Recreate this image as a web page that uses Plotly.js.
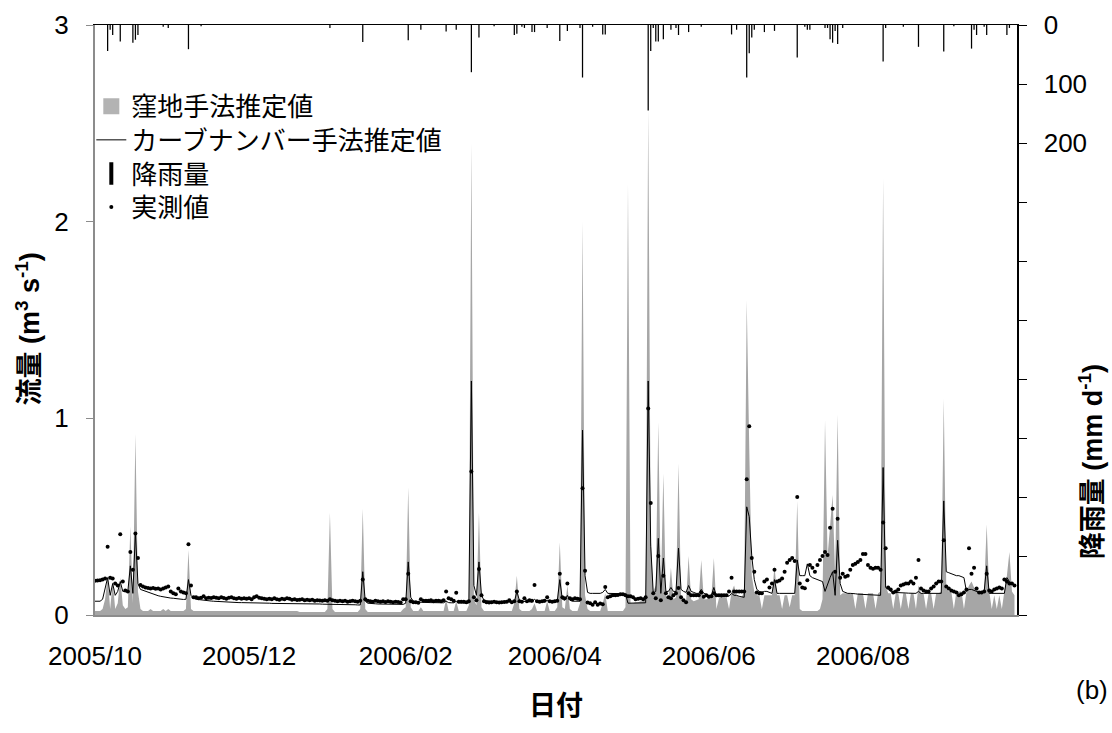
<!DOCTYPE html>
<html><head><meta charset="utf-8">
<script src="https://cdn.plot.ly/plotly-3.0.1.min.js"></script>
<style>html,body{margin:0;padding:0;background:#fff}#chart{width:1112px;height:733px}</style>
</head><body><div id="chart"></div>
<script>
// ---- data (daily series start 2005-10-01, one value per day) ----
const startDate = '2005-10-01';
const seriesNames = ['窪地手法推定値', 'カーブナンバー手法推定値', '降雨量', '実測値'];

// 窪地手法推定値 (m3/s)
const kubochi = [
 // Oct
 0.02,0.02,0.02,0.03,0.08,0.20,0.03,0.17,0.03,0.06, 0.19,0.05,0.03,0.04,0.45,0.06,0.92,0.12,0.03,0.02, 0.02,0.02,0.03,0.02,0.02,0.02,0.02,0.03,0.02,0.03, 0.02,
 // Nov
 0.02,0.02,0.02,0.02,0.02,0.03,0.33,0.03,0.02,0.02, 0.02,0.02,0.02,0.02,0.02,0.02,0.02,0.02,0.02,0.02, 0.02,0.02,0.02,0.02,0.02,0.02,0.02,0.02,0.02,0.02,
 // Dec
 0.02,0.02,0.02,0.02,0.02,0.02,0.02,0.02,0.02,0.02, 0.02,0.02,0.02,0.02,0.02,0.02,0.02,0.02,0.02,0.02, 0.015,0.015,0.015,0.015,0.015,0.015,0.015,0.015,0.015,0.015, 0.015,
 // Jan
 0.03,0.52,0.03,0.015,0.015,0.015,0.015,0.015,0.015,0.015, 0.015,0.015,0.015,0.03,0.54,0.03,0.015,0.015,0.015,0.015, 0.015,0.015,0.015,0.015,0.015,0.015,0.015,0.015,0.015,0.015, 0.03,
 // Feb
 0.04,0.65,0.04,0.02,0.02,0.02,0.04,0.02,0.02,0.02, 0.02,0.02,0.02,0.02,0.02,0.02,0.08,0.02,0.02,0.02, 0.07,0.02,0.02,0.02,0.02,0.05,2.40,0.08,
 // Mar
 0.05,0.52,0.04,0.02,0.02,0.02,0.02,0.02,0.02,0.02, 0.02,0.02,0.02,0.02,0.02,0.06,0.20,0.03,0.02,0.02, 0.02,0.02,0.03,0.06,0.02,0.02,0.02,0.02,0.07,0.02, 0.02,
 // Apr
 0.02,0.04,0.37,0.04,0.03,0.15,0.03,0.02,0.02,0.02, 0.06,2.00,0.10,0.03,0.02,0.02,0.02,0.02,0.02,0.06, 0.11,0.02,0.02,0.02,0.02,0.02,0.02,0.02,0.04,2.19,
 // May
 0.06,0.06,0.065,0.065,0.07,0.07,0.08,2.57,0.40,0.12, 0.15,0.98,0.12,0.72,0.10,0.08,0.24,0.08,0.09,0.77, 0.09,0.07,0.07,0.30,0.08,0.07,0.075,0.08,0.28,0.08, 0.08,
 // Jun
 0.085,0.09,0.29,0.03,0.085,0.09,0.09,0.09,0.03,0.12, 0.15,0.10,0.09,0.09,0.12,1.60,0.85,0.20,0.12,0.10, 0.10,0.03,0.10,0.10,0.10,0.10,0.25,0.10,0.10,0.03,
 // Jul
 0.10,0.10,0.04,0.10,0.10,0.58,0.03,0.02,0.02,0.02, 0.02,0.02,0.02,0.02,0.03,0.08,0.99,0.30,0.45,0.61, 0.20,1.02,0.10,0.11,0.11,0.11,0.11,0.11,0.03,0.11, 0.11,
 // Aug
 0.11,0.03,0.11,0.11,0.11,0.03,0.11,0.12,2.22,0.15, 0.11,0.11,0.03,0.11,0.11,0.03,0.11,0.11,0.03,0.11, 0.11,0.03,0.15,0.11,0.11,0.03,0.11,0.11,0.03,0.11, 0.11,
 // Sep
 0.12,1.10,0.14,0.12,0.12,0.03,0.12,0.12,0.12,0.03, 0.12,0.15,0.17,0.14,0.13,0.12,0.12,0.13,0.46,0.12, 0.03,0.10,0.03,0.10,0.03,0.12,0.20,0.32,0.12,0.10
];

// カーブナンバー手法推定値 (m3/s)
const curveNumber = [
 // Oct
 0.07,0.07,0.07,0.08,0.13,0.19,0.10,0.16,0.10,0.12, 0.17,0.12,0.12,0.12,0.25,0.11,0.42,0.16,0.13,0.125, 0.12,0.115,0.11,0.105,0.10,0.098,0.095,0.092,0.09,0.088, 0.086,
 // Nov
 0.085,0.083,0.082,0.08,0.079,0.08,0.18,0.10,0.085,0.08, 0.078,0.076,0.075,0.073,0.072,0.071,0.07,0.069,0.068,0.067, 0.066,0.066,0.065,0.065,0.064,0.064,0.063,0.063,0.063,0.062,
 // Dec
 0.062,0.062,0.061,0.061,0.061,0.06,0.06,0.06,0.06,0.059, 0.059,0.059,0.059,0.058,0.058,0.058,0.058,0.058,0.057,0.057, 0.057,0.057,0.057,0.056,0.056,0.056,0.056,0.056,0.056,0.055, 0.055,
 // Jan
 0.055,0.055,0.055,0.054,0.054,0.054,0.053,0.053,0.053,0.052, 0.052,0.052,0.051,0.051,0.22,0.07,0.06,0.058,0.057,0.057, 0.056,0.056,0.056,0.055,0.055,0.055,0.055,0.054,0.054,0.054, 0.054,
 // Feb
 0.06,0.27,0.09,0.07,0.066,0.065,0.065,0.064,0.064,0.063, 0.063,0.063,0.062,0.062,0.062,0.062,0.07,0.063,0.062,0.062, 0.07,0.062,0.062,0.061,0.061,0.061,1.19,0.15,
 // Mar
 0.10,0.27,0.10,0.075,0.072,0.07,0.069,0.068,0.068,0.067, 0.067,0.066,0.066,0.066,0.065,0.065,0.12,0.075,0.07,0.068, 0.067,0.067,0.066,0.08,0.068,0.067,0.066,0.066,0.075,0.067, 0.066,
 // Apr
 0.066,0.07,0.18,0.08,0.075,0.10,0.075,0.07,0.07,0.068, 0.07,0.94,0.20,0.115,0.11,0.11,0.11,0.11,0.11,0.115, 0.13,0.11,0.11,0.11,0.11,0.11,0.11,0.11,0.108,0.06,
 // May
 0.06,0.06,0.06,0.06,0.06,0.06,0.062,1.19,0.35,0.11, 0.12,0.39,0.11,0.29,0.12,0.12,0.14,0.12,0.12,0.34, 0.13,0.12,0.115,0.15,0.12,0.115,0.11,0.11,0.13,0.11, 0.105,
 // Jun
 0.10,0.10,0.14,0.095,0.093,0.092,0.095,0.10,0.095,0.11, 0.10,0.10,0.095,0.093,0.09,0.55,0.50,0.30,0.18,0.13, 0.12,0.115,0.12,0.12,0.115,0.11,0.18,0.11,0.11,0.11,
 // Jul
 0.11,0.11,0.11,0.11,0.11,0.28,0.20,0.20,0.20,0.26, 0.20,0.19,0.185,0.18,0.175,0.17,0.12,0.16,0.19,0.22, 0.10,0.38,0.16,0.12,0.115,0.11,0.11,0.11,0.108,0.106, 0.105,
 // Aug
 0.105,0.104,0.103,0.102,0.101,0.10,0.10,0.10,0.75,0.14, 0.13,0.12,0.115,0.115,0.114,0.113,0.112,0.112,0.111,0.11, 0.11,0.11,0.12,0.11,0.11,0.11,0.11,0.11,0.11,0.11, 0.11,
 // Sep
 0.11,0.58,0.22,0.215,0.21,0.205,0.20,0.20,0.195,0.19, 0.12,0.13,0.13,0.125,0.12,0.115,0.115,0.12,0.25,0.11, 0.11,0.11,0.11,0.11,0.11,0.11,0.19,0.17,0.16,0.15
];

// 実測値 (m3/s)
const observed = [
 // Oct
 0.174,0.175,0.177,0.18,0.185,0.347,0.19,0.185,0.16,0.15, 0.41,0.17,0.125,0.12,0.32,0.23,0.415,0.29,0.152,0.145, 0.14,0.137,0.135,0.137,0.133,0.135,0.13,0.135,0.14,0.145, 0.12,
 // Nov
 0.11,0.105,0.135,0.12,0.115,0.11,0.36,0.15,0.09,0.09, 0.085,0.088,0.095,0.085,0.088,0.087,0.09,0.088,0.085,0.09, 0.087,0.083,0.088,0.09,0.085,0.083,0.086,0.083,0.085,0.082,
 // Dec
 0.085,0.08,0.09,0.095,0.088,0.085,0.082,0.08,0.083,0.08, 0.085,0.08,0.078,0.082,0.08,0.085,0.082,0.078,0.08,0.076, 0.078,0.08,0.075,0.077,0.075,0.078,0.073,0.075,0.074,0.072, 0.075,
 // Jan
 0.072,0.08,0.075,0.072,0.07,0.073,0.07,0.072,0.068,0.07, 0.072,0.07,0.068,0.072,0.18,0.08,0.072,0.07,0.068,0.072, 0.07,0.068,0.07,0.066,0.07,0.067,0.065,0.068,0.066,0.063, 0.08,
 // Feb
 0.08,0.21,0.07,0.065,0.065,0.062,0.08,0.072,0.073,0.072, 0.075,0.07,0.073,0.072,0.07,0.075,0.12,0.085,0.08,0.072, 0.113,0.068,0.067,0.068,0.065,0.07,0.73,0.09,
 // Mar
 0.075,0.234,0.10,0.07,0.065,0.063,0.065,0.067,0.065,0.063, 0.065,0.066,0.068,0.075,0.065,0.07,0.12,0.07,0.068,0.085, 0.07,0.075,0.072,0.152,0.07,0.068,0.07,0.072,0.09,0.07, 0.068,
 // Apr
 0.07,0.072,0.21,0.09,0.085,0.16,0.085,0.08,0.085,0.082, 0.08,0.645,0.225,0.063,0.06,0.052,0.065,0.052,0.058,0.055, 0.142,0.09,0.095,0.10,0.10,0.102,0.105,0.105,0.10,0.095,
 // May
 0.095,0.09,0.08,0.082,0.085,0.08,0.09,1.05,0.57,0.11, 0.085,0.30,0.075,0.20,0.11,0.09,0.085,0.10,0.11,0.137, 0.09,0.075,0.065,0.11,0.10,0.10,0.10,0.10,0.115,0.093, 0.10,
 // Jun
 0.093,0.095,0.11,0.10,0.10,0.10,0.10,0.10,0.12,0.19, 0.12,0.12,0.12,0.12,0.12,0.69,0.96,0.29,0.22,0.115, 0.11,0.11,0.17,0.18,0.14,0.16,0.23,0.17,0.175,0.185,
 // Jul
 0.22,0.266,0.28,0.29,0.275,0.60,0.16,0.14,0.136,0.177, 0.254,0.24,0.22,0.254,0.28,0.30,0.32,0.305,0.444,0.54, 0.22,0.49,0.19,0.21,0.195,0.20,0.23,0.254,0.26,0.27, 0.28,
 // Aug
 0.31,0.31,0.254,0.24,0.235,0.24,0.24,0.23,0.47,0.34, 0.14,0.13,0.115,0.12,0.13,0.15,0.155,0.16,0.16,0.17, 0.16,0.19,0.28,0.135,0.125,0.12,0.12,0.135,0.145,0.16, 0.17,
 // Sep
 0.17,0.38,0.145,0.135,0.125,0.12,0.115,0.10,0.105,0.115, 0.13,0.34,0.21,0.24,0.135,0.115,0.115,0.12,0.21,0.125, 0.12,0.13,0.135,0.14,0.135,0.18,0.17,0.16,0.16,0.15
];

// 降雨量 (mm/d), rainy days only
const rainDates = [
 '2005-10-06','2005-10-07','2005-10-08','2005-10-11','2005-10-16','2005-10-17','2005-10-18','2005-10-28','2005-10-30',
 '2005-11-07','2005-11-12',
 '2006-01-02','2006-01-15',
 '2006-02-02','2006-02-07','2006-02-17','2006-02-21','2006-02-27',
 '2006-03-02','2006-03-08','2006-03-16','2006-03-17','2006-03-19','2006-03-20','2006-03-23','2006-03-24','2006-03-29',
 '2006-04-03','2006-04-06','2006-04-11','2006-04-12','2006-04-16','2006-04-20','2006-04-21',
 '2006-05-08','2006-05-09','2006-05-10','2006-05-11','2006-05-12','2006-05-14','2006-05-17','2006-05-19','2006-05-20','2006-05-24','2006-05-29',
 '2006-06-10','2006-06-12','2006-06-16','2006-06-17','2006-06-18','2006-06-19','2006-06-23','2006-06-27',
 '2006-07-06','2006-07-09','2006-07-10','2006-07-11','2006-07-17','2006-07-18','2006-07-19','2006-07-20','2006-07-21','2006-07-22','2006-07-24',
 '2006-08-09','2006-08-10','2006-08-17','2006-08-23',
 '2006-09-02','2006-09-06','2006-09-13','2006-09-14','2006-09-15','2006-09-18','2006-09-19','2006-09-27','2006-09-28'
];
const rainMm = [
 44,8,17,28,30,25,17,3,5,
 41,2,
 5,29,
 26,8,11,8,80,
 21,2,17,15,3,5,12,12,5,
 27,10,5,89,3,16,16,
 145,44,5,28,28,24,8,5,17,12,3,
 16,8,89,48,21,8,12,10,
 55,3,8,8,5,5,24,30,10,32,5,
 62,5,3,37,
 45,2,40,8,17,3,17,17,5
];

// axis ticks
const dateTickVals = ['2005-10-01', '2005-12-01', '2006-02-01', '2006-04-01', '2006-06-01', '2006-08-01'];
const flowTickVals = [0, 1, 2, 3];
const rainTickVals = [0, 100, 200];

// ---- build ----
function dailyDates(start, n) {
  const t0 = Date.parse(start + 'T00:00:00Z');
  const out = [];
  for (let i = 0; i < n; i++) out.push(new Date(t0 + i * 86400000).toISOString().slice(0, 10));
  return out;
}
const days = dailyDates(startDate, kubochi.length);
const xRange = ['2005-10-01', '2006-10-01'];

const latin = "'Liberation Sans', Arial, 'Noto Sans CJK JP', sans-serif";
const jp = "'Noto Sans CJK JP', sans-serif";

const traces = [
  {type: 'scatter', x: days, y: kubochi, mode: 'none', fill: 'tozeroy', fillcolor: '#a6a6a6',
   name: seriesNames[0], showlegend: false, hoverinfo: 'skip'},
  {type: 'scatter', x: days, y: curveNumber, mode: 'lines', line: {color: '#000', width: 1},
   name: seriesNames[1], showlegend: false},
  {type: 'scatter', x: days, y: observed, mode: 'markers', marker: {color: '#000', size: 4},
   name: seriesNames[3], showlegend: false},
  {type: 'bar', x: rainDates, y: rainMm, xaxis: 'x2', yaxis: 'y2', width: 0.5 * 86400000,
   marker: {color: '#000', line: {width: 0}}, name: seriesNames[2], showlegend: false},
  // legend entries (one legend box per row)
  {type: 'scatter', x: [null], y: [null], mode: 'markers', name: seriesNames[0], legend: 'legend',
   marker: {symbol: 'square', size: 16, color: '#b3b3b3'}},
  {type: 'scatter', x: [null], y: [null], mode: 'lines', name: seriesNames[1], legend: 'legend2',
   line: {color: '#000', width: 1}},
  {type: 'scatter', x: [null], y: [null], mode: 'markers', name: seriesNames[2], legend: 'legend3',
   marker: {symbol: 'line-ns', size: 16, line: {width: 4, color: '#000'}}},
  {type: 'scatter', x: [null], y: [null], mode: 'markers', name: seriesNames[3], legend: 'legend4',
   marker: {symbol: 'circle', size: 4, color: '#000'}}
];

function legendBox(y) {
  return {x: -0.004, y: y, xanchor: 'left', yanchor: 'top', bgcolor: 'rgba(0,0,0,0)',
          font: {family: jp, size: 26, color: '#000'}, itemsizing: 'trace'};
}

const layout = {
  width: 1112, height: 733,
  margin: {l: 95, r: 95, t: 25, b: 118},
  paper_bgcolor: '#fff', plot_bgcolor: 'rgba(0,0,0,0)',
  font: {family: latin, size: 26, color: '#000'},
  showlegend: true,
  legend: legendBox(0.902),
  legend2: legendBox(0.845),
  legend3: legendBox(0.788),
  legend4: legendBox(0.731),
  xaxis: {type: 'date', range: xRange, tickvals: dateTickVals, tickformat: '%Y/%m',
          ticks: '', showline: true, linecolor: '#8c8c8c', linewidth: 2, showgrid: false, zeroline: false,
          ticklabelstandoff: 17, tickfont: {family: latin, size: 26},
          title: {text: '<b>日付</b>', standoff: 26, font: {family: latin, size: 27}}},
  xaxis2: {type: 'date', range: xRange, overlaying: 'x', side: 'top', showline: true, linecolor: '#000',
           linewidth: 1, showticklabels: false, ticks: '', showgrid: false, zeroline: false},
  yaxis: {range: [0, 3], tickvals: flowTickVals, ticks: 'outside', ticklen: 7, tickcolor: '#8c8c8c',
          showline: true, linecolor: '#8c8c8c', linewidth: 2, showgrid: false, zeroline: false,
          ticklabelstandoff: 12, tickfont: {family: latin, size: 26}},
  yaxis2: {overlaying: 'y', side: 'right', range: [1000, 0], tickvals: rainTickVals,
           ticks: 'outside', ticklen: 8, tickcolor: '#000', showline: true, linecolor: '#000', linewidth: 1.5,
           minor: {dtick: 100, tick0: 0, ticks: 'outside', ticklen: 8, tickcolor: '#000', showgrid: false},
           showgrid: false, zeroline: false, ticklabelstandoff: 12, tickfont: {family: latin, size: 26}},
  annotations: [
    {text: '<b>流量 (m<sup>3</sup> s<sup>-1</sup>)</b>', xref: 'paper', yref: 'paper', x: -0.073, y: 0.485,
     xanchor: 'center', yanchor: 'middle', textangle: -90, showarrow: false, font: {family: latin, size: 27}},
    {text: '<b>降雨量 (mm d<sup>-1</sup>)</b>', xref: 'paper', yref: 'paper', x: 1.08, y: 0.26,
     xanchor: 'center', yanchor: 'middle', textangle: -90, showarrow: false, font: {family: latin, size: 27}},
    {text: '(b)', xref: 'paper', yref: 'paper', x: 1.081, y: -0.127, xanchor: 'center', yanchor: 'middle',
     showarrow: false, font: {family: latin, size: 26}}
  ]
};

Plotly.newPlot('chart', traces, layout, {staticPlot: true, displayModeBar: false});
</script>
</body></html>
